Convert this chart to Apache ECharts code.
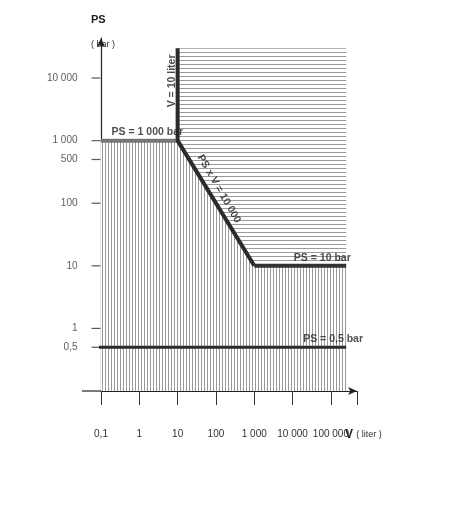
<!DOCTYPE html>
<html><head><meta charset="utf-8">
<script src="https://cdn.jsdelivr.net/npm/echarts@6/dist/echarts.min.js"></script>
<style>html,body{margin:0;background:#fff}#c{width:464px;height:512px}</style>
</head><body><div id="c"></div>
<script>
// category limits (liter / bar)
const vMin = 0.1, vMax = 480000, vEnd = 250000;
const psMin = 0.1, psMax = 43650, psTop = 30000;
// boundary of the diagram
const limitV = [0.1, 10, 1000, 250000];
const limitPS = [1000, 1000, 10, 10];
const yTicks = [10000, 1000, 500, 100, 10, 1, 0.5];
const yTickLabels = ['10 000', '1 000', '500', '100', '10', '1', '0,5'];
const xTickLabels = {0.1: '0,1', 1: '1', 10: '10', 100: '100', 1000: '1 000', 10000: '10 000', 100000: '100 000'};

const font = "'Liberation Sans Narrow','Liberation Sans',Arial,sans-serif";

// hatch patterns
function pattern(w, h, vertical) {
    let c = document.createElement('canvas');
    c.width = w; c.height = h;
    let ctx = c.getContext('2d');
    ctx.fillStyle = '#fff';
    ctx.fillRect(0, 0, w, h);
    ctx.fillStyle = '#9a9a9a';
    if (vertical) ctx.fillRect(0, 0, 1, h); else ctx.fillRect(0, 0, w, 1);
    return c;
}
const vHatch = pattern(3, 4, true), hHatch = pattern(4, 4, false);

let myChart = echarts.init(document.getElementById('c'));
let option = {
    backgroundColor: '#fff',
    animation: false,
    grid: {left: 101, right: 107, top: 38, bottom: 121},
    xAxis: {
        type: 'log', min: vMin, max: vMax,
        axisLine: {lineStyle: {color: '#222', width: 1.2}, symbol: ['none', 'arrow'], symbolSize: [6, 9]},
        axisTick: {length: 14, lineStyle: {color: '#333'}},
        splitLine: {show: false},
        axisLabel: {margin: 38, color: '#333', fontFamily: font, fontSize: 10,
            formatter: v => xTickLabels[+v.toPrecision(3)] || ''}
    },
    yAxis: {
        type: 'log', min: psMin, max: psMax,
        axisLine: {show: true, lineStyle: {color: '#222', width: 1.2}, symbol: ['none', 'arrow'], symbolSize: [6, 9]},
        axisTick: {show: false}, axisLabel: {show: false}, splitLine: {show: false}
    },
    graphic: [
        {type: 'line', shape: {x1: 82, y1: 391, x2: 101, y2: 391}, style: {stroke: '#222', lineWidth: 1.2}},
        {type: 'text', left: 91, top: 14, style: {text: 'PS', font: 'bold 11px ' + font, fill: '#222'}},
        {type: 'text', left: 91, top: 40, style: {text: '( bar )', font: '9px ' + font, fill: '#333'}},
        {type: 'text', left: 345, top: 429, style: {rich: {
            b: {font: 'bold 12px ' + font, fill: '#222'}, s: {font: '9px ' + font, fill: '#333'}},
            text: '{b|V} {s|( liter )}'}}
    ],
    series: [
        {   // upper region, horizontal hatching
            type: 'line', symbol: 'none', z: 1,
            data: [[10, psTop], [vEnd, psTop]],
            lineStyle: {width: 0},
            areaStyle: {color: {image: hHatch, repeat: 'repeat'}, opacity: 1, origin: 'start'}
        },
        {   // lower region, vertical hatching
            type: 'line', symbol: 'none', z: 2,
            data: limitV.map((v, i) => [v, limitPS[i]]),
            lineStyle: {width: 0},
            areaStyle: {color: {image: vHatch, repeat: 'repeat'}, opacity: 1, origin: 'start'}
        },
        {   // PS = 1000 bar
            type: 'line', symbol: 'none', z: 5,
            data: [[limitV[0], limitPS[0]], [limitV[1], limitPS[1]]],
            lineStyle: {color: '#777', width: 4},
            label: {show: false}
        },
        {   // V = 10 liter and PS x V = 10 000
            type: 'line', symbol: 'none', z: 6,
            data: [[10, psTop], [limitV[1], limitPS[1]], [limitV[2], limitPS[2]]],
            lineStyle: {color: '#2a2a2a', width: 4}
        },
        {   // PS = 10 bar
            type: 'line', symbol: 'none', z: 5,
            data: [[limitV[2], limitPS[2]], [limitV[3], limitPS[3]]],
            lineStyle: {color: '#333', width: 4}
        },
        {   // PS = 0,5 bar
            type: 'line', symbol: 'none', z: 5, clip: false,
            data: [[0.08, 0.5], [vEnd, 0.5]],
            lineStyle: {color: '#2a2a2a', width: 3}
        },
        {   // y ticks and labels
            type: 'scatter', z: 7, clip: false,
            data: yTicks.map((v, i) => ({value: [vMin, v], label: {formatter: yTickLabels[i]}})),
            symbol: 'rect', symbolSize: [9, 1.2], symbolOffset: [-5, 0],
            itemStyle: {color: '#333'},
            label: {show: true, position: 'left', distance: 14, color: '#333', fontFamily: font, fontSize: 10}
        },
        {   // annotations
            type: 'scatter', z: 8, clip: false, symbolSize: 0,
            label: {show: true, fontFamily: font, fontWeight: 'bold', color: '#222', fontSize: 10.5},
            data: [
                {value: [0.14, 1350], label: {formatter: 'PS = 1 000 bar', position: 'right'}},
                {value: [7.3, 9000], label: {formatter: 'V = 10 liter', rotate: 90, position: 'inside'}},
                {value: [120, 170], label: {formatter: 'PS x V = 10 000', rotate: -60, position: 'inside'}},
                {value: [8000, 13.5], label: {formatter: 'PS = 10 bar', position: 'right'}},
                {value: [14000, 0.68], label: {formatter: 'PS = 0,5 bar', position: 'right'}}
            ]
        }
    ]
};
myChart.setOption(option);
</script>
</body></html>
